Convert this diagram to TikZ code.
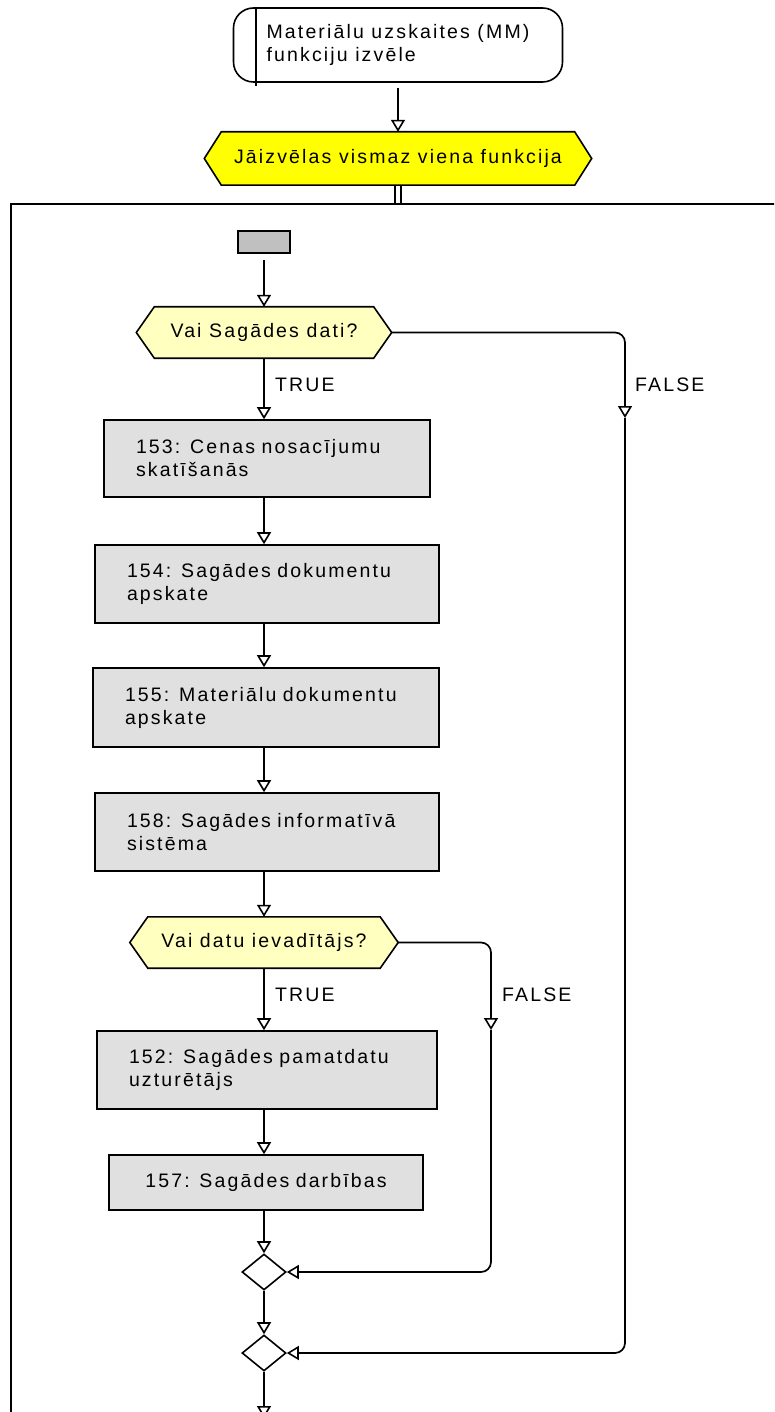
\documentclass[tikz,border=0pt]{standalone}
\usepackage{fontspec}
\setmainfont{Liberation Sans}
\newfontfamily\diafont[LetterSpace=11]{Liberation Sans}
\usetikzlibrary{arrows.meta,shapes.geometric,backgrounds}
\definecolor{hexyel}{RGB}{255,255,0}
\definecolor{hexlt}{RGB}{255,255,192}
\definecolor{boxgray}{RGB}{224,224,224}
\definecolor{startgray}{RGB}{192,192,192}
\newcommand\oneline[1]{\mbox{#1}}
\newcommand\hexbg[3]{%
  \begin{scope}[on background layer]
    \draw[line width=1.6pt,fill=#3] (#1.west) -- ([xshift=#2]#1.north west) -- ([xshift=-#2]#1.north east)
      -- (#1.east) -- ([xshift=-#2]#1.south east) -- ([xshift=#2]#1.south west) -- cycle;
  \end{scope}}
\tikzset{
  every node/.style={font={\diafont\fontsize{19.5pt}{23pt}\selectfont}},
  startn/.style={draw, line width=1.6pt, rounded corners=20pt, minimum width=329pt, minimum height=74pt, align=left, inner sep=0pt},
  hexn/.style={inner sep=0pt, align=center},
  procbox/.style={draw, line width=1.6pt, fill=boxgray, inner xsep=32pt, inner ysep=0pt, align=left},
  gstart/.style={draw, line width=1.5pt, fill=startgray, minimum width=52pt, minimum height=22pt, inner sep=0pt},
  merge/.style={diamond, draw, line width=1.6pt, fill=white, minimum width=44pt, minimum height=36pt, inner sep=0pt},
  lbl/.style={inner sep=0pt, anchor=west},
  conn/.style={line width=1.7pt},
  arr/.style={line width=1.7pt, -{Triangle[width=14pt,length=12pt,fill=white,line width=1.6pt]}},
  frame/.style={line width=2.2pt}
}
\begin{document}
\begin{tikzpicture}[x=1pt,y=-1pt]
\useasboundingbox (0,0) rectangle (774,1412);
\clip (0,0) rectangle (774,1412);

% frame
\draw[frame] (11,204) rectangle (800,1450);
\coordinate (ftop) at (398,204);

% nodes
\node[startn] (s) at (398,45) {Materiālu uzskaites (MM)\\funkciju izvēle};
\draw[line width=1.6pt] ([xshift=23pt]s.north west) -- ([xshift=23pt,yshift=-3pt]s.south west);

\node[hexn, minimum width=387pt, minimum height=53pt] (h1) at (398,158.5) {Jāizvēlas vismaz viena funkcija};
\hexbg{h1}{17pt}{hexyel}

\node[gstart] (g) at (264,242) {};

\node[hexn, minimum width=255pt, minimum height=51pt] (h2) at (264,332.5) {Vai Sagādes dati?};
\hexbg{h2}{18pt}{hexlt}

\node[procbox, text width=262pt, minimum height=77pt] (b153) at (267,458.5) {\oneline{153: Cenas nosacījumu}\\\oneline{skatīšanās}};
\node[procbox, text width=280pt, minimum height=78pt] (b154) at (267,584) {\oneline{154: Sagādes dokumentu}\\\oneline{apskate}};
\node[procbox, text width=282pt, minimum height=79pt] (b155) at (266,707.5) {\oneline{155: Materiālu dokumentu}\\\oneline{apskate}};
\node[procbox, text width=280pt, minimum height=78pt] (b158) at (267,832) {\oneline{158: Sagādes informatīvā}\\\oneline{sistēma}};

\node[hexn, minimum width=268pt, minimum height=51pt] (h3) at (264,942.5) {Vai datu ievadītājs?};
\hexbg{h3}{18pt}{hexlt}

\node[procbox, text width=276pt, minimum height=78pt] (b152) at (267,1070) {\oneline{152: Sagādes pamatdatu}\\\oneline{uzturētājs}};
\node[procbox, align=center, text width=250pt, minimum height=55pt] (b157) at (266,1182.5) {\oneline{157: Sagādes darbības}};

\node[merge] (d1) at (264,1272) {};
\node[merge] (d2) at (264,1353) {};

% labels
\node[lbl] (tr1) at (275,385) {TRUE};
\node[lbl] (fa1) at (635,385) {FALSE};
\node[lbl] (tr2) at (275,995) {TRUE};
\node[lbl] (fa2) at (502,995) {FALSE};

% coordinates
\coordinate (f1) at (625,418);
\coordinate (f2) at (491,1030);
\coordinate (bend) at (264,1418);

% connectors
\draw[arr] ([yshift=-5pt]s.south) -- (h1.north);
\draw[conn] ([xshift=-3pt]h1.south) -- ([xshift=-3pt]ftop);
\draw[conn] ([xshift=3pt]h1.south) -- ([xshift=3pt]ftop);
\draw[arr] ([yshift=-6pt]g.south) -- (h2.north);
\draw[arr] (h2.south) -- (b153.north -| h2);
\draw[arr] (b153.south -| h2) -- (b154.north -| h2);
\draw[arr] (b154.south -| h2) -- (b155.north -| h2);
\draw[arr] (b155.south -| h2) -- (b158.north -| h2);
\draw[arr] (b158.south -| h2) -- (h3.north);
\draw[arr] (h3.south) -- (b152.north -| h2);
\draw[arr] (b152.south -| h2) -- (b157.north -| h2);
\draw[arr] (b157.south -| h2) -- (d1.north);
\draw[arr] (d1.south) -- (d2.north);
\draw[arr] (d2.south) -- (bend);

\draw[arr, rounded corners=10pt] (h2.east) -| (f1);
\draw[arr, rounded corners=10pt] (f1) |- (d2.east);
\draw[arr, rounded corners=10pt] (h3.east) -| (f2);
\draw[arr, rounded corners=10pt] (f2) |- (d1.east);
\end{tikzpicture}
\end{document}
